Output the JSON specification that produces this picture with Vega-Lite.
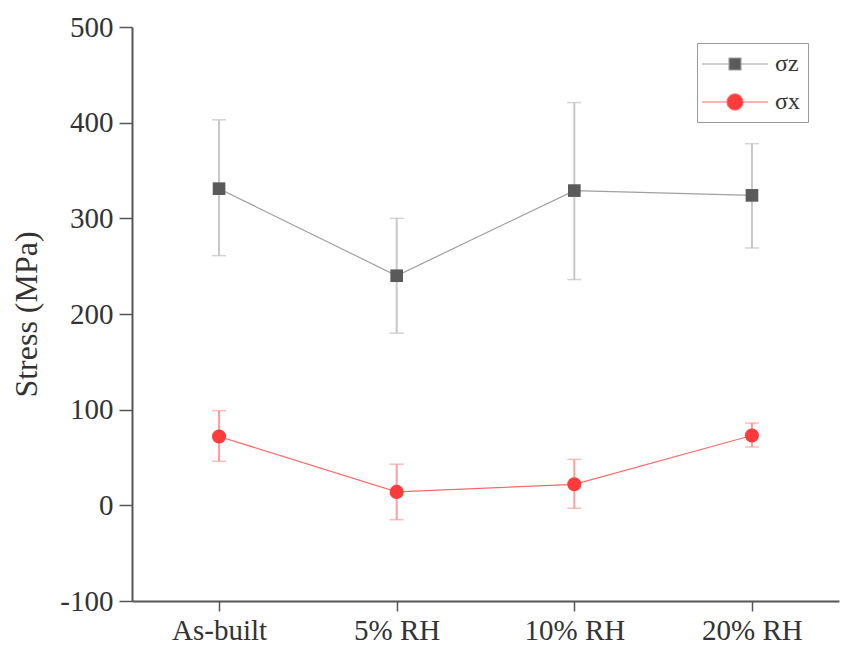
{
  "$schema": "https://vega.github.io/schema/vega-lite/v6.json",
  "autosize": "none",
  "width": 707,
  "height": 574,
  "padding": {"left": 132, "top": 27, "right": 3, "bottom": 44},
  "background": "white",
  "config": {
    "view": {"stroke": null},
    "font": "Liberation Serif",
    "axis": {"labelFont": "Liberation Serif", "titleFont": "Liberation Serif", "domainColor": "#555", "tickColor": "#555", "domainWidth": 2, "tickWidth": 1.5, "labelColor": "#333", "titleColor": "#333", "grid": false}
  },
  "data": {
    "values": [
      {"cond": "As-built", "series": "σz", "value": 331, "lo": 261, "hi": 403},
      {"cond": "5% RH", "series": "σz", "value": 240, "lo": 180, "hi": 300},
      {"cond": "10% RH", "series": "σz", "value": 329, "lo": 236, "hi": 421},
      {"cond": "20% RH", "series": "σz", "value": 324, "lo": 269, "hi": 378},
      {"cond": "As-built", "series": "σx", "value": 72, "lo": 46, "hi": 99},
      {"cond": "5% RH", "series": "σx", "value": 14, "lo": -15, "hi": 43},
      {"cond": "10% RH", "series": "σx", "value": 22, "lo": -3, "hi": 48},
      {"cond": "20% RH", "series": "σx", "value": 73, "lo": 61, "hi": 86}
    ]
  },
  "encoding": {
    "x": {"field": "cond", "type": "ordinal", "sort": ["As-built", "5% RH", "10% RH", "20% RH"],
      "scale": {"type": "point", "padding": 0.49},
      "axis": {"title": null, "labelAngle": 0, "labelFontSize": 29, "tickSize": 10, "labelPadding": 5}}
  },
  "layer": [
    {
      "mark": {"type": "rule", "strokeWidth": 2},
      "encoding": {
        "y": {"field": "lo", "type": "quantitative"},
        "y2": {"field": "hi"},
        "color": {"field": "series", "type": "nominal", "scale": {"domain": ["σz", "σx"], "range": ["#c8c8c8", "#ff9c9c"]}, "legend": null}
      }
    },
    {
      "mark": {"type": "tick", "thickness": 1.5, "size": 14},
      "encoding": {
        "y": {"field": "lo", "type": "quantitative"},
        "color": {"field": "series", "type": "nominal", "scale": {"domain": ["σz", "σx"], "range": ["#c0c0c0", "#ff9c9c"]}, "legend": null}
      }
    },
    {
      "mark": {"type": "tick", "thickness": 1.5, "size": 14},
      "encoding": {
        "y": {"field": "hi", "type": "quantitative"},
        "color": {"field": "series", "type": "nominal", "scale": {"domain": ["σz", "σx"], "range": ["#c0c0c0", "#ff9c9c"]}, "legend": null}
      }
    },
    {
      "mark": {"type": "line", "strokeWidth": 1.2},
      "encoding": {
        "y": {"field": "value", "type": "quantitative"},
        "detail": {"field": "series"},
        "color": {"field": "series", "type": "nominal", "scale": {"domain": ["σz", "σx"], "range": ["#a0a0a0", "#ff6b6b"]},
          "legend": {"title": null, "orient": "none", "legendX": 565, "legendY": 16,
            "strokeColor": "#999", "padding": 8, "labelFontSize": 24, "labelFont": "Liberation Serif", "labelColor": "#333",
            "symbolSize": 576, "symbolOffset": 17, "labelOffset": 27, "rowPadding": 13,
            "encode": {"symbols": {"update": {
              "shape": {"signal": "datum.value === 'σz' ? 'M-2.75,0H-0.5M0.5,0H2.75M-0.5,-0.5H0.5V0.5H-0.5Z' : 'M-2.75,0H-0.67M0.67,0H2.75M-0.67,0A0.67,0.67 0 1,0 0.67,0A0.67,0.67 0 1,0 -0.67,0Z'"},
              "fill": {"signal": "datum.value === 'σz' ? '#5a5a5a' : '#ff3b3b'"},
              "strokeWidth": {"value": 1.2},
              "opacity": {"value": 1}
            }}}}}
      }
    },
    {
      "mark": {"type": "point", "filled": true, "opacity": 1},
      "encoding": {
        "y": {"field": "value", "type": "quantitative",
          "scale": {"domain": [-100, 500], "nice": false, "zero": false},
          "axis": {"title": "Stress (MPa)", "titleFontSize": 32, "titleFontWeight": "normal", "titlePadding": 16, "labelFontSize": 29, "tickSize": 13, "values": [-100, 0, 100, 200, 300, 400, 500], "labelPadding": 6, "labelExpr": "'' + datum.value"}},
        "size": {"field": "series", "type": "nominal", "scale": {"domain": ["σz", "σx"], "range": [160, 200]}, "legend": null},
        "shape": {"field": "series", "type": "nominal", "scale": {"domain": ["σz", "σx"], "range": ["square", "circle"]}, "legend": null},
        "color": {"field": "series", "type": "nominal", "scale": {"domain": ["σz", "σx"], "range": ["#5a5a5a", "#ff3b3b"]}, "legend": null}
      }
    }
  ],
  "resolve": {"scale": {"color": "independent", "shape": "independent", "size": "independent"}}
}
